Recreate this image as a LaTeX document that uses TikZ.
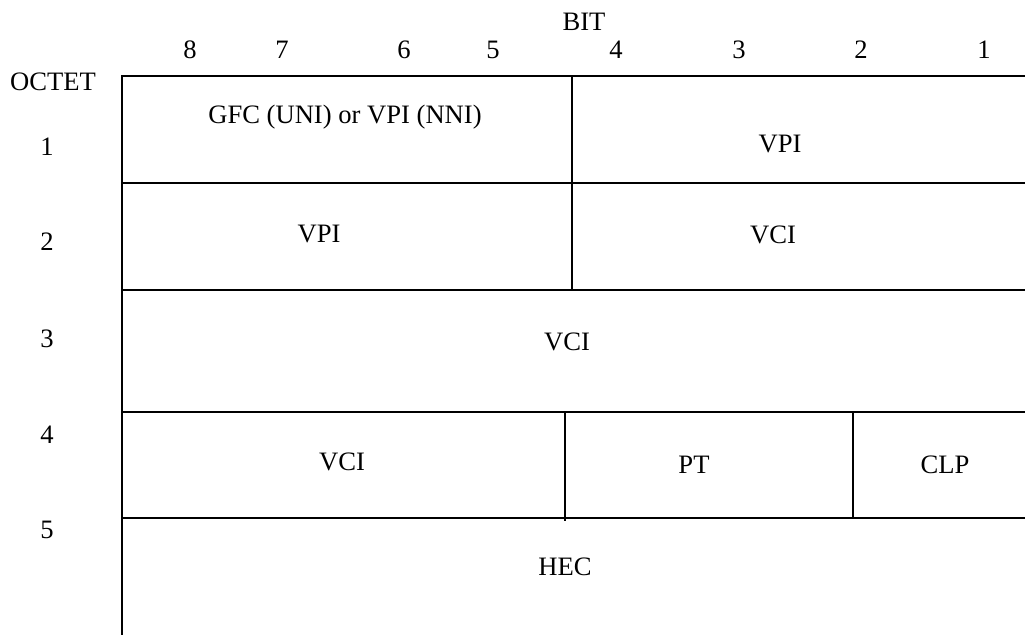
\documentclass[tikz,border=0pt]{standalone}
\usepackage{fontspec}
\setmainfont{Liberation Serif}
\begin{document}
\begin{tikzpicture}[x=1pt,y=-1pt,
  lbl/.style={inner sep=0pt,anchor=base,font=\fontsize{26.6}{30}\selectfont},
  rule/.style={line width=2.7pt,line cap=butt}]
\useasboundingbox (0,0) rectangle (1025,635);
% coordinates of the frame
\coordinate (tl) at (122,76);
\coordinate (tr) at (1025,76);
\coordinate (bl) at (122,635);
\coordinate (h1l) at (122,183);  \coordinate (h1r) at (1025,183);
\coordinate (h2l) at (122,290);  \coordinate (h2r) at (1025,290);
\coordinate (h3l) at (122,412);  \coordinate (h3r) at (1025,412);
\coordinate (h4l) at (122,518);  \coordinate (h4r) at (1025,518);
\coordinate (v1t) at (572,76);   \coordinate (v1b) at (572,290);
\coordinate (v2t) at (565,412);  \coordinate (v2b) at (565,521);
\coordinate (v3t) at (853,412);  \coordinate (v3b) at (853,518);
% lines
\draw[rule] (tr) -- (tl) -- (bl);
\draw[rule] (h1l) -- (h1r);
\draw[rule] (h2l) -- (h2r);
\draw[rule] (h3l) -- (h3r);
\draw[rule] (h4l) -- (h4r);
\draw[rule] (v1t) -- (v1b);
\draw[rule] (v2t) -- (v2b);
\draw[rule] (v3t) -- (v3b);
% headings
\node[lbl] (bit) at (584,30) {BIT};
\node[lbl] (b8) at (190,58) {8};
\node[lbl] (b7) at (282,58) {7};
\node[lbl] (b6) at (404,58) {6};
\node[lbl] (b5) at (493,58) {5};
\node[lbl] (b4) at (616,58) {4};
\node[lbl] (b3) at (739,58) {3};
\node[lbl] (b2) at (861,58) {2};
\node[lbl] (b1) at (984,58) {1};
\node[lbl] (octet) at (53,90) {OCTET};
\node[lbl] (o1) at (47,155) {1};
\node[lbl] (o2) at (47,250) {2};
\node[lbl] (o3) at (47,347) {3};
\node[lbl] (o4) at (47,443) {4};
\node[lbl] (o5) at (47,538) {5};
% fields
\node[lbl] (gfc) at (345,123) {GFC (UNI) or VPI (NNI)};
\node[lbl] (vpia) at (780,152) {VPI};
\node[lbl] (vpib) at (319,242) {VPI};
\node[lbl] (vcia) at (773,243) {VCI};
\node[lbl] (vcib) at (567,350) {VCI};
\node[lbl] (vcic) at (342,470) {VCI};
\node[lbl] (pt) at (694,473) {PT};
\node[lbl] (clp) at (945,473) {CLP};
\node[lbl] (hec) at (565,575) {HEC};
\end{tikzpicture}
\end{document}
